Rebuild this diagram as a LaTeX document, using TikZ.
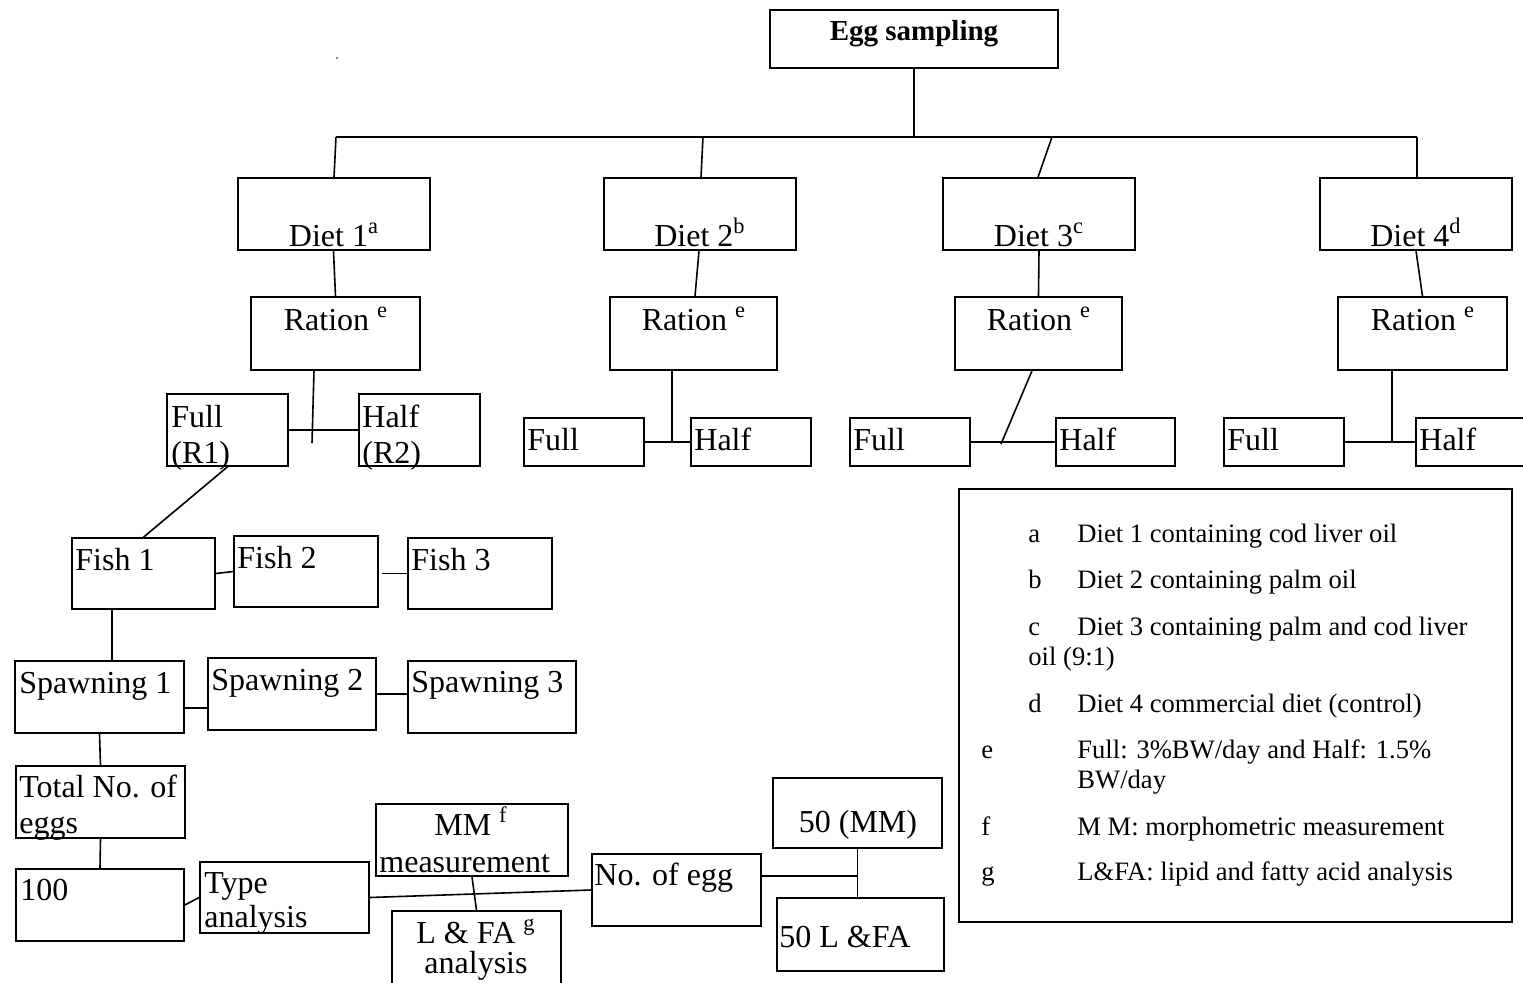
\documentclass[tikz,border=0pt]{standalone}
\usepackage{fontspec}
\setmainfont{Liberation Serif}
\usetikzlibrary{fit,calc}
\newcommand\mainfs{\fontsize{16pt}{18pt}\selectfont}
\newcommand\legfs{\fontsize{13.3pt}{15pt}\selectfont}
\newcommand\boldfs{\fontsize{14.5pt}{17pt}\selectfont\bfseries}
\newcommand\sups[1]{\textsuperscript{#1}}
\begin{document}
\begin{tikzpicture}[x=0.5pt,y=-0.5pt,
  box/.style={draw, line width=0.8pt, inner sep=0pt},
  tl/.style={inner sep=0pt, anchor=base west, font=\mainfs},
  tc/.style={inner sep=0pt, anchor=base, font=\mainfs},
  lg/.style={inner sep=0pt, anchor=base west, font=\legfs},
  ln/.style={line width=0.8pt}]
\useasboundingbox (0,0) rectangle (1523,982);
\clip (0,0) rectangle (1523,982);
\fill[white] (0,0) rectangle (1523,982);

% stray dot
\fill (337,58) circle (0.8);

% top box
\node[box, fit={(770,10) (1058,68)}] (egg) {};
\node[inner sep=0pt, anchor=base, font=\boldfs] (eggt) at (914,40) {Egg sampling};

% diets
\node[box, fit={(238,178) (430,250)}] (d1) {};
\node[box, fit={(604,178) (796,250)}] (d2) {};
\node[box, fit={(943,178) (1135,250)}] (d3) {};
\node[box, fit={(1320,178) (1512,250)}] (d4) {};
\node[tc] (d1t) at (334,246) {Diet 1\sups{a}};
\node[tc] (d2t) at (700,246) {Diet 2\sups{b}};
\node[tc] (d3t) at (1039,246) {Diet 3\sups{c}};
\node[tc] (d4t) at (1416,246) {Diet 4\sups{d}};

% rations
\node[box, fit={(251,297) (420,370)}] (r1) {};
\node[box, fit={(610,297) (777,370)}] (r2) {};
\node[box, fit={(955,297) (1122,370)}] (r3) {};
\node[box, fit={(1338,297) (1507,370)}] (r4) {};
\node[tc] (r1t) at (336,330) {Ration \sups{e}};
\node[tc] (r2t) at (694,330) {Ration \sups{e}};
\node[tc] (r3t) at (1039,330) {Ration \sups{e}};
\node[tc] (r4t) at (1423,330) {Ration \sups{e}};

% full / half
\node[box, fit={(167,394) (288,466)}] (f1) {};
\node[box, fit={(359,394) (480,466)}] (h1) {};
\node[tl] (f1a) at (171,427) {Full};
\node[tl] (f1b) at (171,463) {(R1)};
\node[tl] (h1a) at (362,427) {Half};
\node[tl] (h1b) at (362,463) {(R2)};

\node[box, fit={(524,418) (644,466)}] (f2) {};
\node[box, fit={(691,418) (811,466)}] (h2) {};
\node[box, fit={(850,418) (970,466)}] (f3) {};
\node[box, fit={(1056,418) (1175,466)}] (h3) {};
\node[box, fit={(1224,418) (1344,466)}] (f4) {};
\node[box, fit={(1416,418) (1540,466)}] (h4) {};
\node[tl] (f2t) at (527,450) {Full};
\node[tl] (h2t) at (694,450) {Half};
\node[tl] (f3t) at (853,450) {Full};
\node[tl] (h3t) at (1059,450) {Half};
\node[tl] (f4t) at (1227,450) {Full};
\node[tl] (h4t) at (1419,450) {Half};

% fish
\node[box, fit={(72,538) (215,609)}] (fi1) {};
\node[box, fit={(234,536) (378,607)}] (fi2) {};
\node[box, fit={(408,538) (552,609)}] (fi3) {};
\node[tl] (fi1t) at (75,570) {Fish 1};
\node[tl] (fi2t) at (237,568) {Fish 2};
\node[tl] (fi3t) at (411,570) {Fish 3};

% spawning
\node[box, fit={(15,661) (184,733)}] (s1) {};
\node[box, fit={(208,658) (376,730)}] (s2) {};
\node[box, fit={(408,661) (576,733)}] (s3) {};
\node[tl] (s1t) at (19,693) {Spawning 1};
\node[tl] (s2t) at (211,690) {Spawning 2};
\node[tl] (s3t) at (411,692) {Spawning 3};

% bottom chain
\node[box, fit={(16,766) (185,838)}] (tot) {};
\node[tl] (tota) at (19,797) {Total No. of};
\node[tl] (totb) at (19,833) {eggs};
\node[box, fit={(16,869) (184,941)}] (n100) {};
\node[tl] (n100t) at (20,900) {100};
\node[box, fit={(200,862) (369,933)}] (type) {};
\node[tl] (typea) at (204,893) {Type};
\node[tl] (typeb) at (204,927) {analysis};
\node[box, fit={(376,804) (568,876)}] (mm) {};
\node[tc] (mma) at (471,835) {MM \sups{f}};
\node[tl] (mmb) at (379,872) {measurement};
\node[box, fit={(392,911) (561,1000)}] (lfa) {};
\node[tc] (lfaa) at (476,943) {L \& FA \sups{g}};
\node[tc] (lfab) at (476,973) {analysis};
\node[box, fit={(592,854) (761,926)}] (noegg) {};
\node[tl] (noeggt) at (594,885) {No. of egg};
\node[box, fit={(773,778) (942,848)}] (mm50) {};
\node[tc] (mm50t) at (858,832) {50 (MM)};
\node[box, fit={(777,898) (944,971)}] (lfa50) {};
\node[tl] (lfa50t) at (779,947) {50 L \&FA};

% legend
\node[box, fit={(959,489) (1512,922)}] (leg) {};
\node[lg] (la) at (1028,542) {a};
\node[lg] (lat) at (1077,542) {Diet 1 containing cod liver oil};
\node[lg] (lb) at (1028,588) {b};
\node[lg] (lbt) at (1077,588) {Diet 2 containing palm oil};
\node[lg] (lc) at (1028,635) {c};
\node[lg] (lct) at (1077,635) {Diet 3 containing palm and cod liver};
\node[lg] (lcu) at (1028,665) {oil (9:1)};
\node[lg] (ld) at (1028,712) {d};
\node[lg] (ldt) at (1077,712) {Diet 4 commercial diet (control)};
\node[lg] (le) at (981,758) {e};
\node[lg] (let) at (1077,758) {Full: 3\%BW/day and Half: 1.5\%};
\node[lg] (leu) at (1077,788) {BW/day};
\node[lg] (lf) at (981,835) {f};
\node[lg] (lft) at (1077,835) {M M: morphometric measurement};
\node[lg] (lg) at (981,880) {g};
\node[lg] (lgt) at (1077,880) {L\&FA: lipid and fatty acid analysis};

% junction coordinates
\coordinate (bar) at (914,137);
\coordinate (b1) at (336,137);
\coordinate (b2) at (703,137);
\coordinate (b3) at (1052,137);
\coordinate (b4) at (1417,137);
\coordinate (j1) at (312,443);
\coordinate (j2) at (672,442);
\coordinate (j3) at (1001,444);
\coordinate (j4) at (1392,442);
\coordinate (j5) at (857,876);

% connectors
\draw[ln] (egg.south) -- (bar);
\draw[ln] (b1) -- (b4);
\draw[ln] (b1) -- (d1.north);
\draw[ln] (b2) -- ([xshift=0.5pt]d2.north);
\draw[ln] (b3) -- ([xshift=-0.5pt]d3.north);
\draw[ln] (b4) -- ([xshift=0.5pt]d4.north);
\draw[ln] ([xshift=-0.25pt]d1.south) -- (r1.north);
\draw[ln] ([xshift=-0.5pt]d2.south) -- ([xshift=0.75pt]r2.north);
\draw[ln] (d3.south) -- (r3.north);
\draw[ln] (d4.south) -- (r4.north);
\draw[ln] ([xshift=-10.75pt]r1.south) -- (j1);
\draw[ln] (f1.east) -- (h1.west);
\draw[ln] (r2.south -| j2) -- (j2);
\draw[ln] (f2.east) -- (h2.west);
\draw[ln] ([xshift=-3.25pt]r3.south) -- (j3);
\draw[ln] (f3.east) -- (h3.west);
\draw[ln] (r4.south -| j4) -- (j4);
\draw[ln] (f4.east) -- (h4.west);
\draw[ln] (f1.south) -- (fi1.north);
\draw[ln] (fi1.east) -- (fi2.west);
\draw[ln] ($(fi3.west)+(-12.5pt,0)$) -- (fi3.west);
\draw[ln] ([xshift=-15.75pt]fi1.south) -- ([xshift=6.25pt]s1.north);
\draw[ln] ($(s1.east)+(0,-5.5pt)$) -- ($(s2.west)+(0,-7pt)$);
\draw[ln] (s2.east) -- (s2.east -| s3.west);
\draw[ln] (s1.south) -- (tot.north);
\draw[ln] (tot.south) -- (n100.north);
\draw[ln] (n100.east) -- (type.west);
\draw[ln] (type.east) -- (noegg.west);
\draw[ln] (mm.south) -- (lfa.north);
\draw[ln] ($(noegg.east)+(0,7pt)$) -- (j5);
\draw[ln] (mm50.south) -- (mm50.south |- lfa50.north);
\end{tikzpicture}
\end{document}
